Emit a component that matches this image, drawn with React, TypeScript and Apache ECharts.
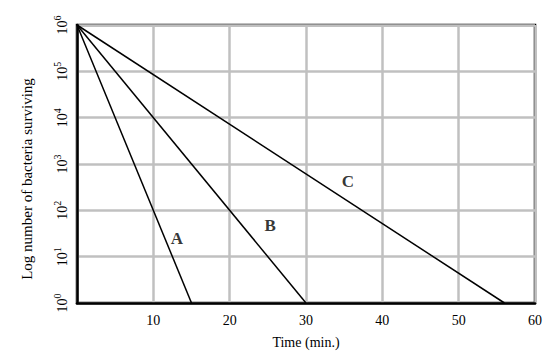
import React, { useEffect, useRef } from "react";
import * as echarts from "echarts";

const xTicks = [0, 10, 20, 30, 40, 50, 60];
const lineA: [number, number][] = [[0, 1e6], [15, 1]];
const lineB: [number, number][] = [[0, 1e6], [30, 1]];
const lineC: [number, number][] = [[0, 1e6], [56, 1]];
const labelNames = ["A", "B", "C"];
const labelPos: [number, number][] = [[13.1, 25], [25.3, 48], [35.5, 410]];

export default function App() {
  const ref = useRef<HTMLDivElement>(null);
  useEffect(() => {
    const chart = echarts.init(ref.current!, null, { renderer: "svg" });
    const font = "Liberation Serif";
    const lineStyle = { color: "#000", width: 1.5 };
    chart.setOption({
      animation: false,
      textStyle: { fontFamily: font },
      grid: { left: 77, top: 25, right: 15, bottom: 54, show: true, borderColor: "#000", borderWidth: 2.5 },
      xAxis: {
        type: "value",
        min: xTicks[0],
        max: xTicks[xTicks.length - 1],
        interval: 10,
        name: "Time (min.)",
        nameLocation: "middle",
        nameGap: 32,
        nameTextStyle: { fontFamily: font, fontSize: 14, color: "#000" },
        axisLine: { lineStyle: { color: "#000", width: 2.5 } },
        axisTick: { show: false },
        axisLabel: {
          fontFamily: font, fontSize: 14, color: "#000", margin: 10,
          formatter: (v: number) => (v === 0 ? "" : String(v)),
        },
        splitLine: { show: true, lineStyle: { color: "#c0c0c0", width: 2.5 } },
      },
      yAxis: {
        type: "log",
        logBase: 10,
        min: 1,
        max: 1e6,
        axisLine: { lineStyle: { color: "#000", width: 2.5 } },
        axisTick: { show: false },
        axisLabel: {
          rotate: 90,
          margin: 8,
          color: "#000",
          formatter: (v: number) => "{b|10}{s|" + Math.round(Math.log10(v)) + "}",
          rich: {
            b: { fontFamily: font, fontSize: 14, color: "#000", verticalAlign: "bottom", lineHeight: 17 },
            s: { fontFamily: font, fontSize: 10, color: "#000", verticalAlign: "top", lineHeight: 17 },
          },
        },
        splitLine: { show: true, lineStyle: { color: "#c0c0c0", width: 2.5 } },
      },
      graphic: [
        {
          type: "text",
          x: 27,
          y: 179,
          rotation: Math.PI / 2,
          style: {
            text: "Log number of bacteria surviving",
            fontFamily: font,
            fontSize: 15,
            fill: "#000",
            align: "center",
            verticalAlign: "middle",
          },
        },
      ],
      series: [
        { type: "line", data: lineA, symbol: "none", lineStyle },
        { type: "line", data: lineB, symbol: "none", lineStyle },
        { type: "line", data: lineC, symbol: "none", lineStyle },
        {
          type: "scatter",
          symbolSize: 0,
          data: labelPos.map((p, i) => ({ value: p, name: labelNames[i] })),
          label: {
            show: true,
            position: "inside",
            formatter: (p: any) => p.name,
            fontFamily: font,
            fontSize: 17,
            fontWeight: "bold",
            color: "#000",
          },
        },
      ],
    });
    return () => chart.dispose();
  }, []);
  return <div ref={ref} style={{ width: 550, height: 357, position: "absolute", left: 0, top: 0, background: "#fff" }} />;
}
